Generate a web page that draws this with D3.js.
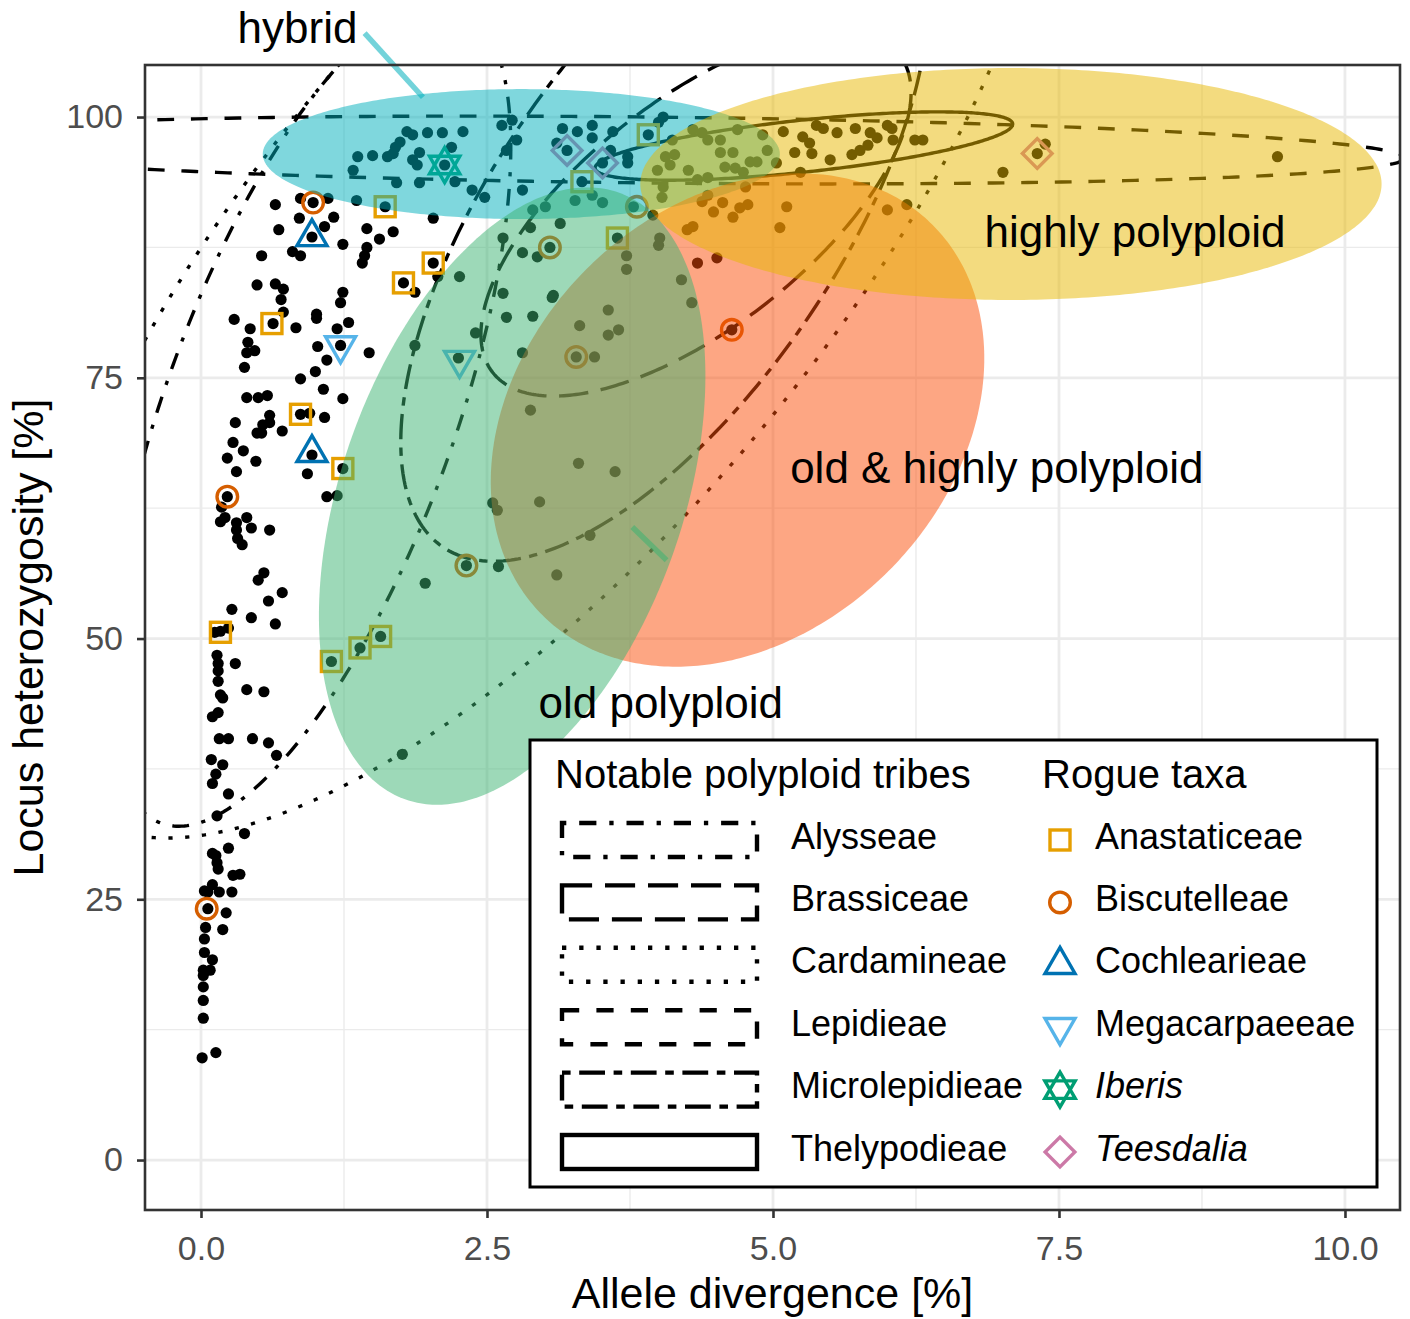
<!DOCTYPE html>
<html>
<head>
<meta charset="utf-8">
<script src="https://cdn.jsdelivr.net/npm/d3@7"></script>
<style>
  body { margin: 0; background: #fff; }
  text { font-family: "Liberation Sans", Arial, Helvetica, sans-serif; }
</style>
</head>
<body>
<svg id="chart" width="1410" height="1319"></svg>
<script>
// Axis ticks
const xTicks = [0, 2.5, 5, 7.5, 10];
const xTickLabels = ["0.0", "2.5", "5.0", "7.5", "10.0"];
const yTicks = [0, 25, 50, 75, 100];
const xMinor = [1.25, 3.75, 6.25, 8.75];
const yMinor = [12.5, 37.5, 62.5, 87.5];

// Samples: allele divergence [%], locus heterozygosity [%]
const points = [
  [0.65,91.6],[0.87,92.2],[0.98,91.8],[1.11,92.2],[0.86,90.3],[0.97,88.5],[1.08,89.5],[1.16,90.4],[0.68,89.2],[0.53,86.7],
  [0.80,87.1],[0.87,86.7],[1.24,87.8],[1.45,89.3],[1.56,88.3],[1.68,89.0],[1.45,87.5],[1.43,86.7],[1.41,86.0],[0.49,83.9],
  [0.65,84.0],[0.72,83.5],[0.70,82.5],[0.72,81.3],[0.63,80.2],[0.29,80.6],[0.43,79.7],[0.41,78.4],[0.47,77.6],[0.40,77.4],
  [0.38,76.0],[0.83,79.8],[1.01,81.1],[1.01,80.7],[1.24,83.2],[1.22,82.2],[1.29,80.3],[1.19,79.7],[1.22,78.1],[1.02,78.0],
  [1.10,76.7],[1.00,75.6],[0.87,74.9],[1.47,77.4],[1.07,73.9],[1.24,73.0],[0.40,73.1],[0.50,73.1],[0.58,73.3],[0.60,71.4],
  [0.60,70.7],[0.54,70.5],[0.49,69.7],[0.53,69.7],[0.87,71.5],[0.95,71.6],[1.08,71.2],[0.30,70.7],[0.71,69.9],[0.28,68.8],
  [0.37,68.0],[0.23,67.3],[0.48,67.0],[0.31,66.0],[0.97,67.6],[0.93,65.8],[1.24,66.3],[0.23,63.6],[0.18,62.6],[0.21,61.6],
  [0.17,61.2],[0.31,61.1],[0.31,60.4],[0.40,61.6],[0.44,60.6],[0.60,60.4],[0.32,59.6],[0.36,59.0],[1.10,63.6],[1.19,63.7],
  [0.55,56.3],[0.50,55.6],[0.71,54.4],[0.59,53.6],[0.27,52.8],[0.44,52.0],[0.65,51.4],[0.17,50.7],[0.12,50.6],[0.24,51.0],
  [0.14,48.4],[0.15,47.6],[0.15,46.9],[0.30,47.6],[0.15,45.9],[0.17,44.6],[0.19,44.3],[0.15,42.9],[0.10,42.5],[0.40,45.1],
  [0.55,44.9],[0.16,40.4],[0.24,40.4],[0.45,40.4],[0.59,40.0],[0.66,38.8],[0.09,38.4],[0.19,37.9],[0.13,37.0],[0.10,36.1],
  [0.24,35.1],[0.14,33.0],[0.38,31.3],[0.24,29.9],[0.10,29.4],[0.13,29.2],[0.14,28.5],[0.15,27.9],[0.34,27.4],[0.28,27.3],
  [0.10,26.4],[0.03,25.8],[0.06,25.7],[0.16,25.7],[0.27,25.7],[0.06,24.1],[0.22,23.7],[0.04,22.3],[0.19,22.1],[0.03,21.2],
  [0.03,19.9],[0.10,19.2],[0.02,18.2],[0.08,18.2],[0.02,17.7],[0.02,16.6],[0.02,15.3],[0.02,13.6],[0.01,9.8],[0.13,10.3],
  [1.14,47.8],[1.39,49.1],[1.57,50.2],[1.76,38.9],
  [1.37,96.2],[1.50,96.3],[1.33,94.9],[1.63,96.2],[1.68,96.5],[1.74,97.6],[1.80,98.6],[1.85,98.3],[1.98,98.5],[2.11,98.5],
  [2.29,98.6],[2.19,97.1],[1.70,97.1],[1.91,96.6],[1.85,95.9],[1.89,95.4],[1.71,93.7],[1.91,93.7],[2.13,95.4],[2.22,93.8],
  [2.37,93.0],[2.48,92.3],[1.36,92.0],[2.03,90.3],[1.61,91.4],[2.63,99.2],[2.72,99.7],[2.76,97.8],[2.67,96.8],[2.81,93.0],
  [2.90,91.1],[3.01,91.4],[3.16,98.9],[3.29,98.6],[3.42,99.2],[3.42,98.0],[3.11,97.5],[3.20,96.8],[3.51,95.6],[3.33,93.8],
  [3.27,92.0],[3.42,92.5],[3.51,91.8],[3.60,98.6],[3.58,96.8],[3.73,96.2],[3.73,95.6],[4.04,100.0],[4.00,99.5],[3.91,98.3],
  [3.14,89.8],[2.88,89.4],[3.05,87.5],[2.81,87.0],[2.94,86.6],[2.64,88.4],[2.26,84.7],[2.64,83.1],[3.08,82.9],[3.64,88.4],
  [3.72,86.7],[3.72,85.4],[3.78,91.4],[3.95,90.6],[4.01,88.4],[4.00,87.7],[4.30,89.5],[2.03,86.0],[1.77,84.1],[1.87,83.2],
  [2.07,84.7],
  [4.12,97.8],[4.30,98.8],[4.38,98.5],[4.43,97.8],[4.54,97.8],[4.54,96.6],[4.69,98.8],[4.91,98.3],[4.95,96.8],[4.65,96.6],
  [4.06,96.2],[4.14,96.4],[3.99,94.9],[4.10,95.4],[4.26,94.9],[4.43,94.2],[4.34,94.0],[4.58,95.2],[4.67,95.1],[4.74,94.7],
  [4.80,95.7],[4.86,95.7],[5.03,95.6],[4.04,93.3],[4.03,92.3],[4.43,92.5],[4.38,91.9],[4.56,91.8],[4.48,90.9],[4.71,91.3],
  [4.65,90.4],[4.78,91.6],[4.76,93.3],[4.25,89.2],[5.12,91.4],[5.06,89.4],[5.09,98.6],[5.26,98.1],[5.38,99.2],[5.44,98.9],
  [5.56,98.5],[5.72,98.9],[5.85,98.5],[5.91,98.0],[6.00,99.2],[6.04,98.9],[6.05,97.8],[6.24,97.8],[6.31,97.8],[5.19,96.6],
  [5.32,97.5],[5.34,96.5],[5.50,95.9],[5.69,96.4],[5.76,96.8],[5.83,97.3],[5.24,94.7],[6.00,91.1],[6.17,91.6],[7.38,97.4],
  [7.31,96.5],[7.01,94.7],[9.41,96.2],
  [4.34,86.0],[4.51,86.5],[4.20,84.4],[4.29,82.2],[3.56,81.5],[3.56,79.1],[3.65,79.6],[4.64,79.6],[3.62,66.0],[3.30,66.8],
  [3.07,82.7],[2.67,80.8],[2.90,80.9],[2.40,79.3],[1.87,78.1],[2.25,76.9],[2.81,77.4],[3.31,80.0],[3.28,77.0],[3.44,77.0],
  [2.88,71.9],[2.96,63.1],[2.55,63.0],[2.59,62.3],[3.40,59.9],[2.32,57.0],[2.60,56.9],[3.11,56.1],[1.96,55.3]
];

// Rogue taxa samples
const rogueNames = ["Anastaticeae", "Biscutelleae", "Cochlearieae", "Megacarpaeeae", "Iberis", "Teesdalia"];
const anastaticeae = [[1.61,91.4],[2.03,86.0],[1.77,84.1],[0.62,80.2],[0.87,71.5],[1.24,66.3],[0.17,50.6],
                      [1.14,47.8],[1.39,49.1],[1.57,50.2],[3.33,93.8],[3.64,88.4],[3.91,98.3]];
const biscutelleae = [[0.98,91.8],[0.23,63.6],[0.05,24.1],[4.64,79.6],[3.05,87.5],[3.28,77.0],[2.32,57.0],[3.81,91.4]];
const cochlearieae = [[0.97,88.5],[0.97,67.8]];
const megacarpaeeae = [[1.22,78.1],[2.26,76.7]];
const iberis = [[2.13,95.4]];
const teesdalia = [[3.20,96.8],[3.51,95.6],[7.31,96.5]];
const rogueData = [anastaticeae, biscutelleae, cochlearieae, megacarpaeeae, iberis, teesdalia];

// Notable polyploid tribes: ellipse centre and two conjugate half-axis vectors (data units)
const tribeNames = ["Alysseae", "Brassiceae", "Cardamineae", "Lepidieae", "Microlepidieae", "Thelypodieae"];
const tribeCenters = [[0.948,71.50],[4.327,90.75],[2.970,86.48],[3.925,96.84],[4.052,90.04],[5.27,97.22]];
const tribeAxisA = [[1.295,39.21],[1.777,15.24],[4.047,52.88],[6.60,-0.77],[1.705,32.38],[1.825,2.14]];
const tribeAxisB = [[1.192,-4.74],[0.614,-8.61],[1.868,-17.2],[0,-3.16],[1.552,-4.07],[0.024,-2.48]];

// Sample groups: ellipse centre and two half-axis vectors (data units)
const groupNames = ["hybrid", "old & highly polyploid", "highly polyploid", "old polyploid"];
const groupCenters = [[2.80,96.45],[4.69,70.95],[7.08,93.58],[2.72,63.66]];
const groupAxisA = [[2.26,0],[1.706,18.7],[3.24,0],[0.93,29.1]];
const groupAxisB = [[0,6.23],[1.32,-14.48],[0,11.12],[1.41,-5.4]];
// label anchor and leader line end points (data units)
const groupLabelPos = [[0.32,107.1],[5.15,64.9],[6.85,87.5],[2.95,42.4]];
const groupLeaders = [[[1.43,108.05],[1.94,101.9]], null, null, [[3.77,60.7],[4.07,57.5]]];

// Styles
const groupColor = {"hybrid": "#00AFBB", "old & highly polyploid": "#FC4E07", "highly polyploid": "#E7B800", "old polyploid": "#3CB371"};
const tribeLinetype = {Alysseae: "dotdash", Brassiceae: "longdash", Cardamineae: "dotted",
                       Lepidieae: "dashed", Microlepidieae: "twodash", Thelypodieae: "solid"};
const dashUnits = {solid: null, dashed: [4,4], dotted: [1,3], dotdash: [1,3,4,3], longdash: [7,3], twodash: [2,2,6,2]};
const rogueShape = {Anastaticeae: "square", Biscutelleae: "circle", Cochlearieae: "triangle",
                    Megacarpaeeae: "triangleDown", Iberis: "star", Teesdalia: "diamond"};
const rogueColor = {Anastaticeae: "#E69F00", Biscutelleae: "#D55E00", Cochlearieae: "#0072B2",
                    Megacarpaeeae: "#56B4E9", Iberis: "#009E73", Teesdalia: "#CC79A7"};

const width = 1410, height = 1319;
const margin = {top: 65, right: 10, bottom: 109, left: 145};

const x = d3.scaleLinear().domain([-0.4895, 10.481]).range([margin.left, width - margin.right]);
const y = d3.scaleLinear().domain([-4.79, 104.99]).range([height - margin.bottom, margin.top]);

const svg = d3.select("#chart");
svg.append("rect").attr("width", width).attr("height", height).attr("fill", "#fff");

const pLeft = margin.left, pRight = width - margin.right, pTop = margin.top, pBottom = height - margin.bottom;

svg.append("defs").append("clipPath").attr("id", "panel-clip")
  .append("rect").attr("x", pLeft).attr("y", pTop).attr("width", pRight - pLeft).attr("height", pBottom - pTop);

// Grid
const grid = svg.append("g");
grid.selectAll(".xminor").data(xMinor).join("line")
  .attr("x1", d => x(d)).attr("x2", d => x(d)).attr("y1", pTop).attr("y2", pBottom)
  .attr("stroke", "#ebebeb").attr("stroke-width", 1.4);
grid.selectAll(".yminor").data(yMinor).join("line")
  .attr("y1", d => y(d)).attr("y2", d => y(d)).attr("x1", pLeft).attr("x2", pRight)
  .attr("stroke", "#ebebeb").attr("stroke-width", 1.4);
grid.selectAll(".xmajor").data(xTicks).join("line")
  .attr("x1", d => x(d)).attr("x2", d => x(d)).attr("y1", pTop).attr("y2", pBottom)
  .attr("stroke", "#ebebeb").attr("stroke-width", 2.8);
grid.selectAll(".ymajor").data(yTicks).join("line")
  .attr("y1", d => y(d)).attr("y2", d => y(d)).attr("x1", pLeft).attr("x2", pRight)
  .attr("stroke", "#ebebeb").attr("stroke-width", 2.8);

const plot = svg.append("g").attr("clip-path", "url(#panel-clip)");

// Ellipse outline in pixel space from data centre + half axes
function ellipsePath(c, a, b) {
  const pts = d3.range(0, 360).map(i => {
    const t = i * Math.PI / 180;
    return [x(c[0] + a[0] * Math.cos(t) + b[0] * Math.sin(t)),
            y(c[1] + a[1] * Math.cos(t) + b[1] * Math.sin(t))];
  });
  return d3.line()(pts) + "Z";
}
function dashArray(type, unit) {
  const d = dashUnits[type];
  return d ? d.map(v => v * unit).join(",") : null;
}

// Tribe outlines
tribeNames.forEach((name, i) => {
  plot.append("path")
    .attr("d", ellipsePath(tribeCenters[i], tribeAxisA[i], tribeAxisB[i]))
    .attr("fill", "none")
    .attr("stroke", "#000")
    .attr("stroke-width", 3.4)
    .attr("stroke-dasharray", dashArray(tribeLinetype[name], 4.2));
});

// Points
plot.append("g").selectAll("circle").data(points).join("circle")
  .attr("cx", d => x(d[0])).attr("cy", d => y(d[1])).attr("r", 5.6).attr("fill", "#000");

// Marker shapes
function drawShape(g, shape, color) {
  const tri = d3.symbol().type(d3.symbolTriangle).size(390)();
  const triStar = d3.symbol().type(d3.symbolTriangle).size(400)();
  let el;
  if (shape === "square") {
    el = g.append("rect").attr("x", -10).attr("y", -10).attr("width", 20).attr("height", 20);
  } else if (shape === "circle") {
    el = g.append("circle").attr("r", 10.3);
  } else if (shape === "triangle") {
    el = g.append("path").attr("d", tri);
  } else if (shape === "triangleDown") {
    el = g.append("path").attr("d", tri).attr("transform", "rotate(180)");
  } else if (shape === "star") {
    g.append("path").attr("d", triStar).attr("fill", "none").attr("stroke", color).attr("stroke-width", 3.4);
    el = g.append("path").attr("d", triStar).attr("transform", "rotate(180)");
  } else if (shape === "diamond") {
    el = g.append("rect").attr("x", -10.5).attr("y", -10.5).attr("width", 21).attr("height", 21)
      .attr("transform", "rotate(45)");
  }
  el.attr("fill", "none").attr("stroke", color).attr("stroke-width", 3.4);
}

rogueNames.forEach((name, i) => {
  rogueData[i].forEach(d => {
    const g = plot.append("g").attr("transform", `translate(${x(d[0])},${y(d[1])})`);
    drawShape(g, rogueShape[name], rogueColor[name]);
  });
});

// Group ellipses (filled, translucent)
groupNames.forEach((name, i) => {
  plot.append("path")
    .attr("d", ellipsePath(groupCenters[i], groupAxisA[i], groupAxisB[i]))
    .attr("fill", groupColor[name])
    .attr("fill-opacity", 0.5)
    .attr("stroke", "none");
});

// Group labels + leaders
groupNames.forEach((name, i) => {
  const ld = groupLeaders[i];
  if (ld) {
    svg.append("line")
      .attr("x1", x(ld[0][0])).attr("y1", y(ld[0][1]))
      .attr("x2", x(ld[1][0])).attr("y2", y(ld[1][1]))
      .attr("stroke", groupColor[name]).attr("stroke-opacity", 0.55).attr("stroke-width", 5.5);
  }
  svg.append("text")
    .attr("x", x(groupLabelPos[i][0])).attr("y", y(groupLabelPos[i][1]))
    .attr("font-size", 44).attr("fill", "#000")
    .text(name);
});

// Panel border
svg.append("rect").attr("x", pLeft).attr("y", pTop).attr("width", pRight - pLeft).attr("height", pBottom - pTop)
  .attr("fill", "none").attr("stroke", "#333").attr("stroke-width", 2.6);

// Axes
const xAxis = svg.append("g").attr("transform", `translate(0,${pBottom})`)
  .call(d3.axisBottom(x).tickValues(xTicks).tickFormat((d, i) => xTickLabels[i]).tickSize(8).tickPadding(18));
const yAxis = svg.append("g").attr("transform", `translate(${pLeft},0)`)
  .call(d3.axisLeft(y).tickValues(yTicks).tickSize(8).tickPadding(14));
[xAxis, yAxis].forEach(a => {
  a.select(".domain").remove();
  a.selectAll(".tick line").attr("stroke", "#333").attr("stroke-width", 2.6);
  a.selectAll(".tick text").attr("fill", "#4d4d4d").attr("font-size", 34)
    .attr("font-family", "'Liberation Sans', Arial, sans-serif");
});

svg.append("text").attr("x", (pLeft + pRight) / 2).attr("y", 1308)
  .attr("text-anchor", "middle").attr("font-size", 43).text("Allele divergence [%]");
svg.append("text").attr("transform", `translate(28,${(pTop + pBottom) / 2}) rotate(-90)`)
  .attr("text-anchor", "middle").attr("dy", "0.35em").attr("font-size", 43).text("Locus heterozygosity [%]");

// Legend
const legend = svg.append("g");
legend.append("rect").attr("x", 530).attr("y", 740).attr("width", 847).attr("height", 447)
  .attr("fill", "#fff").attr("stroke", "#000").attr("stroke-width", 3);
legend.append("text").attr("x", 555).attr("y", 788).attr("font-size", 40).text("Notable polyploid tribes");
legend.append("text").attr("x", 1042).attr("y", 788).attr("font-size", 40).text("Rogue taxa");

const rowY = i => 840 + i * 62.4;
tribeNames.forEach((name, i) => {
  legend.append("rect").attr("x", 562).attr("y", rowY(i) - 17).attr("width", 195).attr("height", 34)
    .attr("fill", "#fff").attr("stroke", "#000").attr("stroke-width", 4.4)
    .attr("stroke-dasharray", dashArray(tribeLinetype[name], 4.3));
  legend.append("text").attr("x", 791).attr("y", rowY(i) - 3).attr("dy", "0.32em").attr("font-size", 36).text(name);
});
rogueNames.forEach((name, i) => {
  const g = legend.append("g").attr("transform", `translate(1060,${rowY(i)})`);
  drawShape(g, rogueShape[name], rogueColor[name]);
  legend.append("text").attr("x", 1095).attr("y", rowY(i) - 3).attr("dy", "0.32em").attr("font-size", 36)
    .attr("font-style", (name === "Iberis" || name === "Teesdalia") ? "italic" : null)
    .text(name);
});
</script>
</body>
</html>
